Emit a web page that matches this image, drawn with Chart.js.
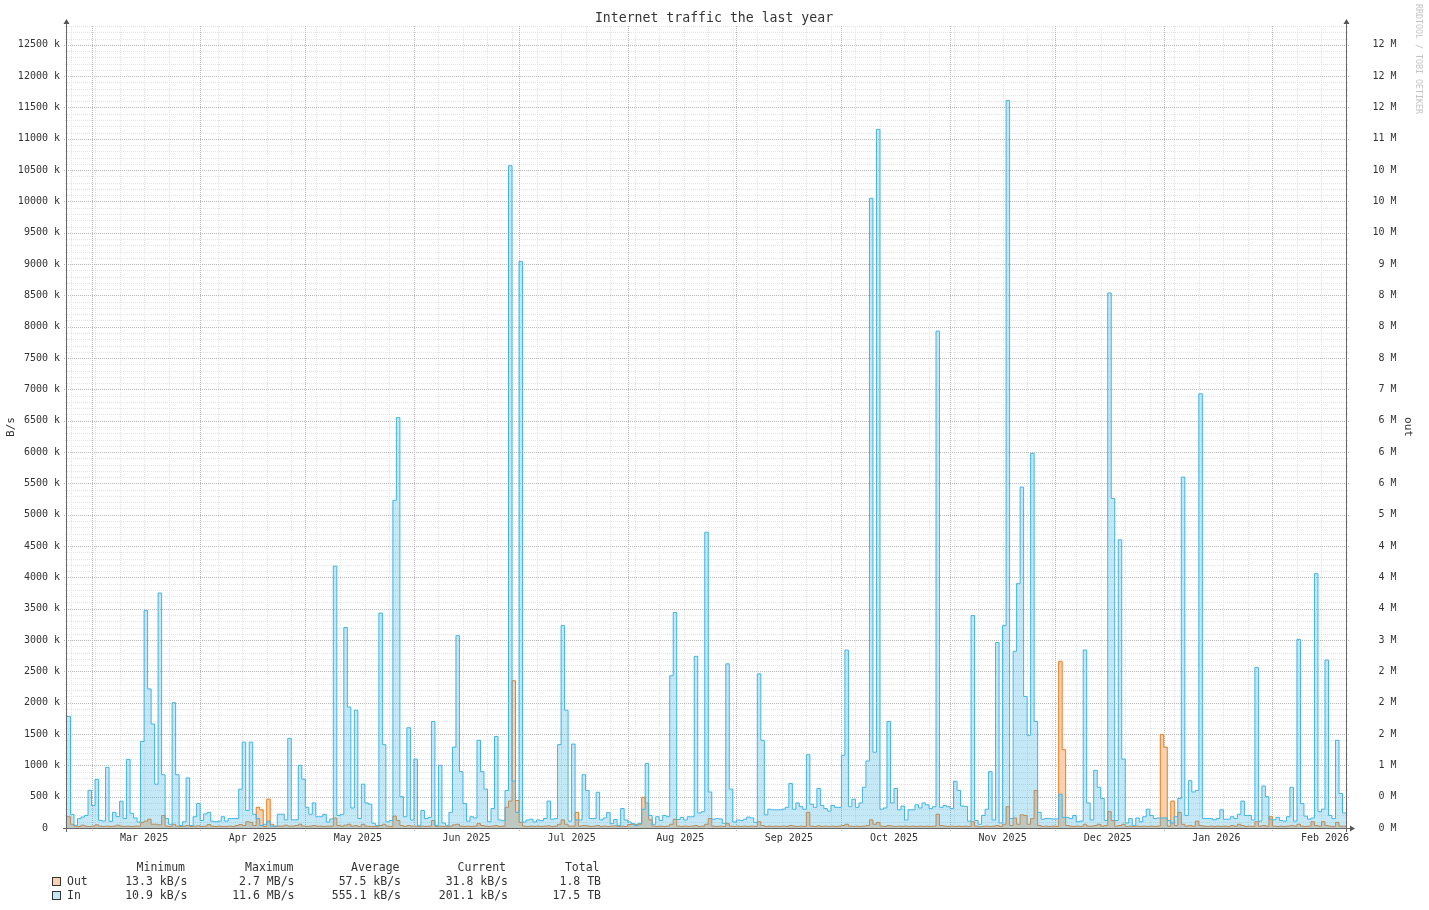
<!DOCTYPE html>
<html>
<head>
<meta charset="utf-8">
<title>Internet traffic the last year</title>
<script src="https://cdn.jsdelivr.net/npm/chart.js@4/dist/chart.umd.min.js"></script>
<style>
  html, body { margin: 0; padding: 0; background: #fff; }
</style>
</head>
<body>
<canvas id="trafficChart" width="1429" height="910"></canvas>
<script>
// daily values in kB/s, day 0 = 22 Feb 2025, 365 days
const inTraffic = [
  1780, 218, 43, 149, 176, 200, 601, 360, 777, 122,
  112, 968, 106, 250, 181, 426, 150, 1096, 234, 160,
  96, 1380, 3470, 2220, 1660, 700, 3750, 850, 150, 60,
  2000, 850, 40, 100, 800, 40, 180, 390, 120, 225,
  250, 110, 100, 110, 180, 110, 150, 150, 150, 620,
  1370, 280, 1370, 220, 150, 40, 60, 110, 30, 30,
  220, 220, 130, 1430, 130, 130, 1000, 780, 330, 220,
  400, 180, 180, 218, 96, 144, 4180, 200, 218, 3200,
  1930, 320, 1880, 150, 700, 400, 380, 75, 40, 3430,
  1330, 100, 120, 5230, 6550, 500, 180, 1600, 128, 1100,
  43, 280, 150, 170, 1700, 43, 1000, 80, 43, 250,
  1290, 3070, 900, 390, 110, 180, 160, 1400, 900, 620,
  100, 310, 1460, 128, 117, 600, 10570, 750, 250, 9040,
  96, 128, 140, 96, 128, 117, 150, 430, 140, 150,
  1330, 3230, 1880, 110, 1340, 130, 128, 850, 600, 150,
  150, 570, 130, 160, 245, 70, 135, 43, 310, 128,
  96, 70, 40, 75, 300, 1030, 200, 60, 180, 120,
  200, 180, 2430, 3440, 135, 170, 128, 180, 180, 2740,
  240, 260, 4720, 575, 140, 150, 145, 75, 2620, 620,
  96, 128, 120, 140, 175, 160, 90, 2460, 1400, 210,
  300, 290, 290, 290, 300, 330, 710, 300, 400, 340,
  300, 1170, 380, 330, 630, 360, 310, 270, 360, 330,
  330, 1160, 2840, 340, 460, 330, 400, 650, 1070, 10050,
  1210, 11150, 300, 320, 1700, 400, 630, 290, 350, 128,
  290, 290, 370, 320, 400, 370, 310, 340, 7930, 330,
  360, 340, 310, 745, 600, 350, 345, 110, 3390, 120,
  60, 200, 300, 900, 128, 2960, 80, 3230, 11610, 150,
  2820, 3900, 5440, 2100, 1480, 5980, 1700, 250, 140, 150,
  150, 145, 145, 540, 170, 170, 150, 200, 100, 110,
  2840, 400, 128, 920, 650, 470, 120, 8540, 5260, 120,
  4600, 1100, 80, 150, 43, 160, 100, 180, 300, 200,
  150, 160, 160, 160, 120, 80, 180, 470, 5600, 200,
  755, 575, 600, 6930, 150, 150, 150, 130, 150, 290,
  140, 140, 180, 150, 220, 430, 200, 200, 128, 2560,
  110, 670, 500, 140, 130, 170, 120, 110, 180, 650,
  110, 3010, 390, 190, 140, 160, 4060, 260, 300, 2680,
  200, 150, 1400, 550, 240
];

const outTraffic = [
  180, 60, 30, 25, 45, 30, 25, 30, 50, 30,
  25, 30, 25, 30, 45, 30, 25, 30, 25, 30,
  30, 90, 110, 140, 60, 60, 50, 200, 30, 25,
  60, 30, 25, 30, 40, 25, 30, 35, 25, 30,
  55, 30, 25, 30, 25, 25, 30, 25, 40, 55,
  40, 100, 90, 40, 330, 290, 25, 460, 60, 25,
  30, 30, 45, 30, 30, 40, 60, 30, 25, 30,
  40, 30, 30, 25, 30, 30, 160, 40, 30, 45,
  60, 30, 40, 25, 60, 30, 25, 25, 20, 40,
  60, 30, 25, 190, 120, 40, 25, 40, 30, 30,
  20, 30, 25, 30, 120, 25, 30, 25, 20, 30,
  50, 60, 30, 25, 30, 25, 30, 70, 40, 30,
  25, 30, 40, 25, 30, 330, 430, 2350, 440, 90,
  30, 25, 30, 25, 30, 25, 30, 35, 25, 30,
  60, 130, 60, 30, 30, 250, 30, 40, 35, 25,
  30, 40, 25, 30, 25, 30, 35, 25, 30, 25,
  55, 60, 60, 60, 490, 400, 130, 30, 25, 30,
  25, 30, 60, 140, 30, 25, 30, 25, 30, 40,
  25, 30, 60, 150, 30, 25, 30, 25, 70, 30,
  25, 30, 25, 30, 25, 30, 25, 100, 40, 25,
  30, 25, 30, 25, 30, 25, 40, 30, 25, 30,
  25, 250, 30, 25, 35, 25, 30, 25, 30, 25,
  30, 40, 60, 30, 25, 30, 25, 30, 40, 130,
  60, 90, 30, 25, 40, 30, 25, 30, 25, 30,
  25, 30, 25, 30, 25, 30, 25, 30, 220, 40,
  30, 25, 30, 25, 30, 25, 30, 25, 100, 30,
  20, 25, 30, 25, 30, 40, 25, 60, 340, 40,
  160, 60, 210, 200, 60, 150, 600, 40, 25, 30,
  25, 30, 25, 2660, 1250, 40, 30, 25, 30, 25,
  60, 30, 30, 40, 60, 30, 40, 260, 120, 30,
  40, 60, 25, 30, 25, 30, 25, 30, 25, 30,
  25, 30, 1490, 1290, 30, 430, 40, 250, 60, 30,
  40, 30, 110, 40, 30, 25, 30, 25, 30, 25,
  30, 25, 40, 30, 60, 40, 25, 30, 25, 100,
  30, 40, 30, 180, 30, 25, 30, 25, 30, 40,
  30, 60, 30, 25, 30, 100, 40, 30, 100, 40,
  30, 25, 90, 30, 30
];

// month starts (day index) and the mid-month label positions
const monthStarts = [7, 38, 68, 99, 129, 160, 191, 221, 252, 282, 313, 344];
const monthLabelDays = [22, 53, 83, 114, 144, 175, 206, 236, 267, 297, 328, 359];
const monthLabels = ['Mar 2025', 'Apr 2025', 'May 2025', 'Jun 2025', 'Jul 2025', 'Aug 2025',
  'Sep 2025', 'Oct 2025', 'Nov 2025', 'Dec 2025', 'Jan 2026', 'Feb 2026'];

// labelled y ticks (k)
const yTickValues = [0, 500, 1000, 1500, 2000, 2500, 3000, 3500, 4000, 4500, 5000, 5500, 6000,
  6500, 7000, 7500, 8000, 8500, 9000, 9500, 10000, 10500, 11000, 11500, 12000, 12500];

// legend table
const statHeaders = ['Minimum', 'Maximum', 'Average', 'Current', 'Total'];
const outStats = ['13.3 kB/s', '2.7 MB/s', '57.5 kB/s', '31.8 kB/s', '1.8 TB'];
const inStats = ['10.9 kB/s', '11.6 MB/s', '555.1 kB/s', '201.1 kB/s', '17.5 TB'];

const MONO = 'DejaVu Sans Mono';
const TEXT = '#333';

// step series: value i holds from day i to day i+1
function toSteps(values) {
  const pts = values.map((v, i) => ({ x: i, y: v }));
  pts.push({ x: values.length, y: values[values.length - 1] });
  return pts;
}

// rrdtool prints %.0f, which rounds halves to even
function roundHalfEven(v) {
  const f = Math.floor(v);
  const d = v - f;
  if (Math.abs(d - 0.5) < 1e-9) return f % 2 === 0 ? f : f + 1;
  return Math.round(v);
}

function hLine(ctx, x1, x2, y) {
  ctx.beginPath(); ctx.moveTo(x1, y); ctx.lineTo(x2, y); ctx.stroke();
}
function vLine(ctx, x, y1, y2) {
  ctx.beginPath(); ctx.moveTo(x, y1); ctx.lineTo(x, y2); ctx.stroke();
}

// grid behind the data
const gridPlugin = {
  id: 'rrdGrid',
  beforeDatasetsDraw(chart) {
    const ctx = chart.ctx;
    const { left, right, top, bottom } = chart.chartArea;
    const xs = chart.scales.x, ys = chart.scales.y;
    ctx.save();
    ctx.lineWidth = 1;
    ctx.setLineDash([1, 1]);

    // minor horizontal every 100 k
    ctx.strokeStyle = '#e3e3e3';
    for (let v = 100; v <= ys.max; v += 100) {
      if (v % 500 === 0) continue;
      const py = Math.round(ys.getPixelForValue(v)) + 0.5;
      hLine(ctx, left - 2, right + 2, py);
    }
    // weekly vertical lines
    for (let d = 1; d < xs.max; d += 7) {
      const px = Math.round(xs.getPixelForValue(d)) + 0.5;
      vLine(ctx, px, top, bottom + 2);
    }
    // major horizontal every 500 k
    ctx.strokeStyle = '#b8b8b8';
    yTickValues.forEach(v => {
      if (v === 0) return;
      const py = Math.round(ys.getPixelForValue(v)) + 0.5;
      hLine(ctx, left - 3, right + 3, py);
    });
    // month lines
    monthStarts.forEach(d => {
      const px = Math.round(xs.getPixelForValue(d)) + 0.5;
      vLine(ctx, px, top, bottom + 3);
    });
    ctx.restore();
  }
};

// axes with arrows, drawn on top
const axesPlugin = {
  id: 'rrdAxes',
  afterDatasetsDraw(chart) {
    const ctx = chart.ctx;
    const { left, right, top, bottom } = chart.chartArea;
    ctx.save();
    ctx.strokeStyle = '#666';
    ctx.fillStyle = '#555';
    ctx.lineWidth = 1;
    const y0 = bottom + 0.5, xl = left - 0.5, xr = right + 0.5;
    hLine(ctx, left - 4, right + 4, y0);
    vLine(ctx, xl, bottom + 4, top - 2);
    vLine(ctx, xr, bottom + 4, top - 2);
    // arrows
    [[xl, top - 7], [xr, top - 7]].forEach(([ax, ay]) => {
      ctx.beginPath();
      ctx.moveTo(ax, ay); ctx.lineTo(ax - 3, ay + 5); ctx.lineTo(ax + 3, ay + 5); ctx.closePath();
      ctx.fill();
    });
    ctx.beginPath();
    ctx.moveTo(right + 9, y0); ctx.lineTo(right + 4, y0 - 3); ctx.lineTo(right + 4, y0 + 3); ctx.closePath();
    ctx.fill();
    ctx.restore();
  }
};

// title, axis titles, watermark and legend table
const textPlugin = {
  id: 'rrdText',
  afterDraw(chart) {
    const ctx = chart.ctx;
    ctx.save();
    ctx.fillStyle = TEXT;
    ctx.textBaseline = 'middle';

    ctx.font = `13.2px "${MONO}"`;
    ctx.textAlign = 'center';
    ctx.fillText('Internet traffic the last year', 714, 19);

    ctx.font = `11px "${MONO}"`;
    ctx.save();
    ctx.translate(11, 427); ctx.rotate(-Math.PI / 2);
    ctx.fillText('B/s', 0, 0);
    ctx.restore();
    ctx.save();
    ctx.translate(1408, 427); ctx.rotate(Math.PI / 2);
    ctx.fillText('out', 0, 0);
    ctx.restore();

    ctx.save();
    ctx.fillStyle = '#c4c4c4';
    ctx.font = `8.3px "${MONO}"`;
    ctx.translate(1418, 4); ctx.rotate(Math.PI / 2);
    ctx.textAlign = 'left';
    ctx.fillText('RRDTOOL / TOBI OETIKER', 0, 0);
    ctx.restore();

    // legend
    ctx.font = `11.5px "${MONO}"`;
    ctx.textAlign = 'right';
    const headEnds = [185, 293.5, 399.5, 506, 599.5];
    const valEnds = [187.5, 294.5, 401, 508, 601];
    statHeaders.forEach((h, i) => ctx.fillText(h, headEnds[i], 868));
    const rows = [
      { name: 'Out', stats: outStats, color: '#f7d1b0', y: 882 },
      { name: 'In', stats: inStats, color: '#c6e8f6', y: 896 }
    ];
    rows.forEach(r => {
      ctx.fillStyle = r.color;
      ctx.fillRect(52.5, r.y - 4.5, 8, 8);
      ctx.strokeStyle = '#333';
      ctx.lineWidth = 1;
      ctx.strokeRect(52.5, r.y - 4.5, 8, 8);
      ctx.fillStyle = TEXT;
      ctx.textAlign = 'left';
      ctx.fillText(r.name, 67, r.y);
      ctx.textAlign = 'right';
      r.stats.forEach((s, i) => ctx.fillText(s, valEnds[i], r.y));
    });
    ctx.restore();
  }
};

const tickFont = { family: MONO, size: 10 };
const setYTicks = s => { s.ticks = yTickValues.map(v => ({ value: v })); };

const config = {
  type: 'line',
  data: {
    datasets: [
      {
        label: 'In',
        data: toSteps(inTraffic),
        stepped: true,
        borderColor: '#40b5e8',
        backgroundColor: 'rgba(69, 181, 230, 0.31)',
        borderWidth: 1,
        fill: 'origin',
        pointRadius: 0,
        order: 0
      },
      {
        label: 'Out',
        data: toSteps(outTraffic),
        stepped: true,
        borderColor: '#f07c1c',
        backgroundColor: '#f7d1b0',
        borderWidth: 1,
        fill: 'origin',
        pointRadius: 0,
        order: 1
      }
    ]
  },
  options: {
    responsive: false,
    animation: false,
    devicePixelRatio: 1,
    layout: { padding: { top: 26, right: 32.5, left: 0, bottom: 0 } },
    plugins: {
      legend: { display: false },
      tooltip: { enabled: false }
    },
    scales: {
      x: {
        type: 'linear',
        min: 0,
        max: 365,
        grid: { display: false, drawTicks: false },
        border: { display: false },
        afterBuildTicks: s => { s.ticks = monthLabelDays.map(v => ({ value: v })); },
        afterFit: s => { s.height = 82; },
        ticks: {
          autoSkip: false,
          maxRotation: 0,
          padding: 4,
          color: TEXT,
          font: tickFont,
          callback: (v, i) => monthLabels[i]
        }
      },
      y: {
        type: 'linear',
        position: 'left',
        min: 0,
        max: 12800,
        grid: { display: false, drawTicks: false },
        border: { display: false },
        afterBuildTicks: setYTicks,
        afterFit: s => { s.width = 67; },
        ticks: {
          autoSkip: false,
          padding: 7,
          color: TEXT,
          font: tickFont,
          // rrdtool leaves the unit blank at zero
          callback: v => (v === 0 ? '0  ' : v + ' k')
        }
      },
      y2: {
        type: 'linear',
        position: 'right',
        min: 0,
        max: 12800,
        grid: { display: false, drawTicks: false },
        border: { display: false },
        afterBuildTicks: setYTicks,
        afterFit: s => { s.width = 50.5; },
        ticks: {
          autoSkip: false,
          crossAlign: 'far',
          color: TEXT,
          font: tickFont,
          callback: v => roundHalfEven(v / 1000) + ' M'
        }
      }
    }
  },
  plugins: [gridPlugin, axesPlugin, textPlugin]
};

let chart;

function createChart() {
  const ctx = document.getElementById('trafficChart').getContext('2d');
  if (chart) {
    chart.destroy();
  }
  chart = new Chart(ctx, config);
}

createChart();
</script>
</body>
</html>
